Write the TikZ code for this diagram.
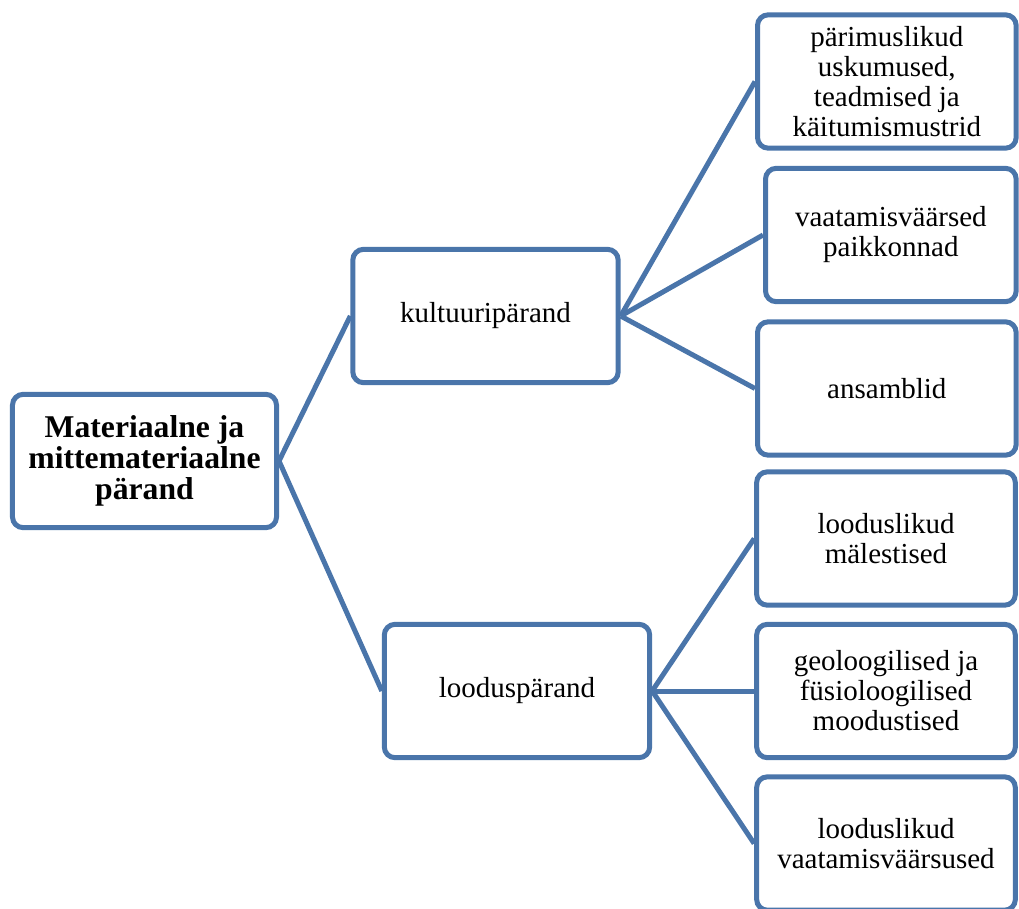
\documentclass[tikz,border=0pt]{standalone}
\usepackage{fontspec}
\setmainfont{Liberation Serif}
\definecolor{boxblue}{RGB}{74,117,170}

\tikzset{every picture/.style={line width=3.75pt}}
\tikzset{
  pbox/.style={draw=boxblue,fill=white,rounded corners=8pt,align=center,inner sep=2pt,
    minimum width=194pt,minimum height=100pt,font=\fontsize{21.75pt}{22.5pt}\selectfont},
  midbox/.style={pbox,minimum width=199pt},
  rootbox/.style={pbox,minimum width=198pt,font=\fontsize{23.75pt}{23.25pt}\selectfont\bfseries}
}

\begin{document}
\begin{tikzpicture}[grow'=right,edge from parent/.style={draw=boxblue},
    edge from parent path={(\tikzparentnode.east) -- (\tikzchildnode.west)}]
\useasboundingbox (-108.375pt,-335.25pt) rectangle (655.875pt,345.75pt);
			\node [rootbox] (root) {Materiaalne ja\\mittemateriaalne\\pärand} [level distance=255.75pt,sibling distance=281.25pt]
			child [yshift=-31.875pt] { node [midbox] (kult) {kultuuripärand} [level distance=301pt,sibling distance=115.125pt]
					child [yshift=60.75pt] {node [pbox] (uskum) {pärimuslikud\\uskumused,\\teadmised ja\\käitumismustrid}}
					child [yshift=60.75pt,xshift=3pt] {node [pbox,minimum width=188pt] (paikk) {vaatamisväärsed\\paikkonnad}}
					child [yshift=60.75pt] {node [pbox] (ansam) {ansamblid}}
				}
			child [xshift=23.625pt,yshift=-31.875pt] {node [midbox] (lood) {looduspärand} [level distance=276.75pt,sibling distance=114.375pt]
					child {node [pbox] (males) {looduslikud\\mälestised}}
					child {node [pbox] (moodu) {geoloogilised ja\\füsioloogilised\\moodustised}}
					child {node [pbox] (vaats) {looduslikud\\vaatamisväärsused}}
				};
		\end{tikzpicture}
\end{document}
